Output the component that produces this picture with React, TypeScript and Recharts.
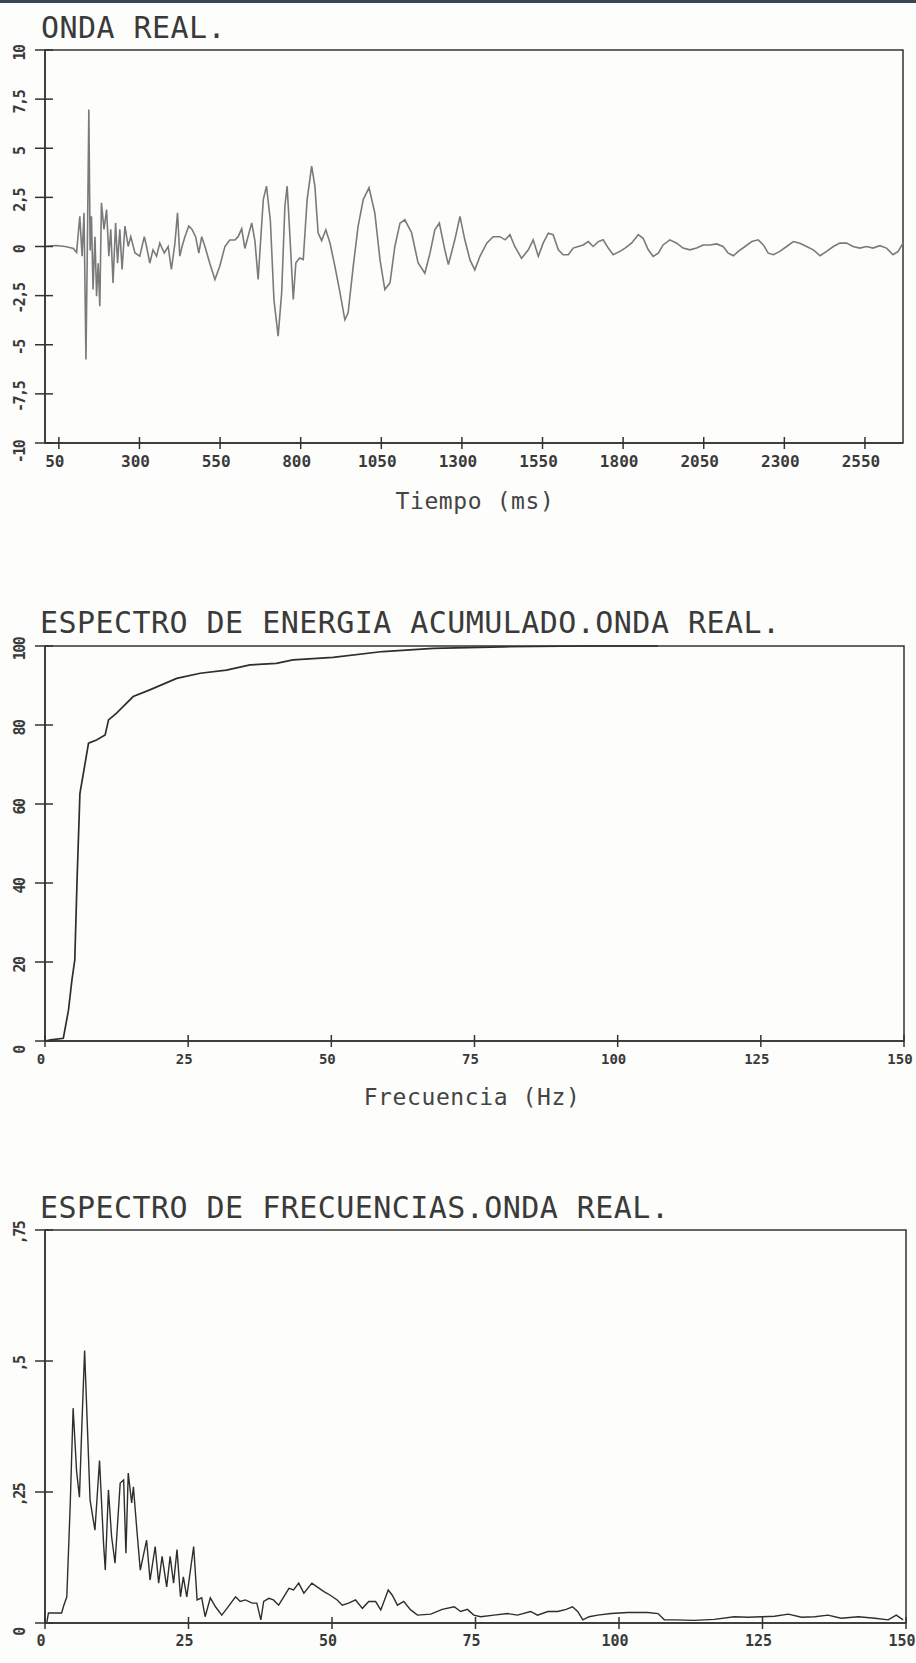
import { LineChart, Line, XAxis, YAxis, ReferenceArea } from 'recharts';

const FONT = '"DejaVu Sans Mono", monospace';
const INK = '#333';

// ONDA REAL: tiempo (ms) y amplitud
const tiempoMs = [
  7, 40, 70, 95, 105, 115, 122, 128, 134, 139, 143, 147, 151, 156, 162, 167, 172, 177, 182, 190,
  198, 205, 211, 218, 226, 232, 239, 246, 255, 265, 273, 286, 301, 315, 322, 332, 342, 353, 363, 377,
  389, 399, 410, 418, 425, 432, 441, 453, 463, 474, 484, 493, 503, 518, 534, 549, 565, 580, 596, 606,
  617, 627, 648, 658, 668, 684, 694, 706, 717, 730, 741, 751, 758, 766, 777, 785, 797, 808, 820, 834,
  844, 854, 865, 878, 891, 906, 922, 937, 947, 963, 978, 994, 1012, 1030, 1046, 1061, 1077, 1092, 1108, 1123,
  1144, 1164, 1185, 1201, 1216, 1230, 1247, 1258, 1278, 1294, 1309, 1325, 1340, 1356, 1377, 1397, 1418, 1434, 1449, 1464,
  1485, 1506, 1521, 1537, 1552, 1568, 1583, 1599, 1614, 1630, 1645, 1661, 1676, 1692, 1707, 1723, 1738, 1754, 1769, 1790,
  1806, 1826, 1847, 1862, 1878, 1893, 1909, 1924, 1945, 1966, 1986, 2007, 2028, 2048, 2069, 2090, 2110, 2126, 2142, 2157,
  2178, 2199, 2219, 2235, 2250, 2266, 2286, 2307, 2328, 2348, 2369, 2390, 2411, 2431, 2452, 2472, 2493, 2513, 2534, 2555,
  2575, 2596, 2617, 2637, 2653, 2668,
];
const amplitud = [
  0, 0.05, 0, -0.1, -0.3, 1.54, -0.49, 1.71, -5.75, 0.87, 6.97, -0.2, 1.54, -2.19, 0.5, -2.53, -0.85, -3.04, 2.22, 0.87,
  1.88, -0.49, 0.87, -1.85, 1.2, -0.85, 0.87, -1.17, 1.04, 0, 0.5, -0.33, -0.49, 0.5, 0, -0.85, -0.17, -0.49, 0.17, -0.33,
  0, -1.17, 0.17, 1.71, -0.49, 0, 0.5, 1.04, 0.87, 0.5, -0.33, 0.5, 0, -0.85, -1.68, -1.0, 0, 0.33, 0.33, 0.5,
  0.9, -0.1, 1.2, 0.3, -1.68, 2.39, 3.07, 1.3, -2.7, -4.56, -2.36, 2.05, 3.07, 0.7, -2.7, -0.83, -0.58, -0.66, 2.39, 4.09,
  3.07, 0.7, 0.3, 0.85, 0.17, -1.0, -2.36, -3.73, -3.39, -1.0, 1.02, 2.39, 2.99, 1.7, -0.68, -2.19, -1.85, 0, 1.19, 1.36,
  0.7, -0.83, -1.36, -0.34, 0.85, 1.19, -0.17, -0.92, 0.34, 1.53, 0.34, -0.68, -1.19, -0.5, 0.17, 0.5, 0.5, 0.34, 0.6, 0,
  -0.6, -0.17, 0.34, -0.5, 0.17, 0.68, 0.6, -0.17, -0.42, -0.42, -0.08, 0, 0.08, 0.25, 0, 0.25, 0.34, -0.08, -0.42, -0.25,
  -0.08, 0.17, 0.6, 0.42, -0.17, -0.5, -0.34, 0.08, 0.34, 0.17, -0.08, -0.17, -0.08, 0.08, 0.08, 0.13, 0, -0.34, -0.47, -0.25,
  0, 0.25, 0.34, 0.08, -0.34, -0.42, -0.25, 0, 0.25, 0.17, 0, -0.17, -0.47, -0.25, 0, 0.17, 0.17, 0, -0.08, 0,
  -0.08, 0.04, -0.08, -0.42, -0.25, 0.17,
];
const tiempoTicks = [50, 300, 550, 800, 1050, 1300, 1550, 1800, 2050, 2300, 2550];
const amplitudTicks = [-10, -7.5, -5, -2.5, 0, 2.5, 5, 7.5, 10];

// ESPECTRO DE ENERGIA ACUMULADO: frecuencia (Hz) y energia (%)
const freqEnergia = [
  0, 1, 3.2, 4.1, 4.7, 5.2, 5.6, 6.1, 6.6, 7.6, 9.0, 10.5, 11.1, 12.5, 15.4, 18.3, 23.0, 27.1, 31.7, 35.8,
  40.4, 43.3, 50.3, 59.0, 67.8, 80, 95, 107,
];
const energiaAcum = [
  0, 0.3, 0.7, 7.8, 15.4, 20.5, 40.8, 62.7, 66.9, 75.4, 76.2, 77.5, 81.3, 83.0, 87.2, 88.9, 91.8, 93.1, 93.9, 95.2,
  95.6, 96.5, 97.1, 98.6, 99.4, 99.8, 100, 100,
];
const energiaTicks = [0, 20, 40, 60, 80, 100];

// ESPECTRO DE FRECUENCIAS: frecuencia (Hz) y amplitud
const freqEspectro = [
  0.3, 0.6, 2.9, 3.2, 3.8, 4.4, 4.9, 5.5, 6.0, 6.4, 6.9, 7.3, 7.85, 8.7, 9.5, 10.2, 10.5, 11.05, 11.6, 12.2,
  13.1, 13.7, 14.1, 14.5, 15.1, 15.4, 16.0, 16.6, 17.7, 18.3, 19.2, 19.8, 20.4, 21.2, 21.8, 22.4, 23.0, 23.6, 24.1, 24.7,
  25.9, 26.5, 27.3, 27.9, 28.8, 29.7, 30.8, 31.7, 33.2, 34.0, 34.9, 36.1, 36.9, 37.6, 38.1, 39.0, 39.8, 40.7, 41.6, 42.5,
  43.3, 44.2, 45.1, 46.5, 47.4, 48.6, 49.7, 50.9, 51.8, 52.9, 54.1, 55.3, 56.4, 57.6, 58.5, 59.8, 60.5, 61.4, 62.5, 63.7,
  64.9, 67.2, 69.2, 71.3, 72.4, 73.6, 74.7, 75.9, 78.2, 80.6, 82.3, 84.6, 85.8, 87.6, 89.3, 90.8, 91.9, 92.8, 93.7, 94.8,
  96.3, 98.6, 101.5, 105.0, 106.8, 107.9, 109.7, 113.1, 116.6, 120.1, 122.5, 124.8, 127.1, 129.5, 131.8, 134.1, 136.4, 138.7, 141.7, 144.6,
  146.9, 148.3, 149.5,
];
const ampEspectro = [
  0, 0.019, 0.019, 0.031, 0.05, 0.228, 0.41, 0.29, 0.24, 0.37, 0.52, 0.4, 0.235, 0.177, 0.31, 0.152, 0.101, 0.254, 0.165, 0.114,
  0.267, 0.273, 0.133, 0.286, 0.229, 0.26, 0.178, 0.101, 0.158, 0.082, 0.146, 0.076, 0.127, 0.069, 0.127, 0.076, 0.14, 0.05, 0.088, 0.05,
  0.146, 0.044, 0.048, 0.012, 0.048, 0.031, 0.015, 0.028, 0.05, 0.041, 0.044, 0.038, 0.038, 0.006, 0.041, 0.047, 0.044, 0.034, 0.05, 0.066,
  0.063, 0.076, 0.057, 0.076, 0.069, 0.06, 0.053, 0.044, 0.034, 0.038, 0.044, 0.028, 0.041, 0.041, 0.025, 0.063, 0.053, 0.034, 0.041, 0.025,
  0.015, 0.017, 0.026, 0.031, 0.022, 0.026, 0.015, 0.012, 0.015, 0.018, 0.015, 0.022, 0.015, 0.022, 0.022, 0.026, 0.031, 0.022, 0.006, 0.012,
  0.015, 0.018, 0.02, 0.02, 0.018, 0.006, 0.006, 0.005, 0.007, 0.012, 0.011, 0.012, 0.013, 0.017, 0.011, 0.012, 0.015, 0.009, 0.012, 0.009,
  0.006, 0.015, 0.006,
];
const espectroTicks = [0, 0.25, 0.5, 0.75];
const freqTicks = [0, 25, 50, 75, 100, 125, 150];

const ondaData = tiempoMs.map((t, i) => ({ t, v: amplitud[i] }));
const energiaData = freqEnergia.map((f, i) => ({ f, v: energiaAcum[i] }));
const espectroData = freqEspectro.map((f, i) => ({ f, v: ampEspectro[i] }));

const comma = (v: number) => String(v).replace('.', ',');
const commaFrac = (v: number) => (v === 0 ? '0' : String(v).replace('0.', ','));

const xTick = (fmt: (v: number) => string, size = 15) => (props: any) => {
  const { x, y, payload } = props;
  return (
    <g>
      <line x1={x} x2={x} y1={y - 6} y2={y + 6} stroke={INK} strokeWidth={1.5} />
      <text
        x={x - 4}
        y={y + 18}
        textAnchor="middle"
        dominantBaseline="central"
        fontFamily={FONT}
        fontSize={size}
        fontWeight="bold"
        fill="#3a3a3a"
      >
        {fmt(payload.value)}
      </text>
    </g>
  );
};

const yTick = (fmt: (v: number) => string) => (props: any) => {
  const { x, y, payload, index } = props;
  // the plotter pushes the lowest label a little further down
  const off = index === 0 ? 9 : 3;
  return (
    <g>
      <line x1={x - 10} x2={x + 8} y1={y} y2={y} stroke={INK} strokeWidth={1.5} />
      <text
        transform={`translate(${x - 25}, ${y + off}) rotate(-90)`}
        textAnchor="middle"
        dominantBaseline="central"
        fontFamily={FONT}
        fontSize={15}
        fontWeight="bold"
        letterSpacing={-1.5}
        fill="#3a3a3a"
      >
        {fmt(payload.value)}
      </text>
    </g>
  );
};

const titleStyle = {
  position: 'absolute' as const,
  fontFamily: FONT,
  fontSize: 30,
  lineHeight: '30px',
  letterSpacing: 0.45,
  color: '#3a3a3a',
  whiteSpace: 'nowrap' as const,
};

const labelStyle = {
  position: 'absolute' as const,
  fontFamily: FONT,
  fontSize: 23,
  lineHeight: '23px',
  letterSpacing: 0.6,
  color: '#444',
  width: 300,
  textAlign: 'center' as const,
  whiteSpace: 'nowrap' as const,
};

const axisLine = { stroke: INK, strokeWidth: 1.5 };

export default function App() {
  return (
    <div
      style={{
        position: 'absolute',
        left: 0,
        top: 0,
        width: 916,
        height: 1663,
        background: '#fdfdfb',
        overflow: 'hidden',
      }}
    >
      <div style={{ position: 'absolute', left: 0, top: 0, width: 916, height: 3, background: '#3b4452' }} />

      <div style={{ ...titleStyle, left: 41, top: 13 }}>ONDA REAL.</div>
      <div style={{ position: 'absolute', left: 0, top: 0 }}>
        <LineChart width={916} height={520} data={ondaData} margin={{ top: 50, left: 15, right: 13, bottom: 47 }}>
          <XAxis
            dataKey="t"
            type="number"
            domain={[7, 2668]}
            ticks={tiempoTicks}
            interval={0}
            height={30}
            tickSize={0}
            tickMargin={0}
            tickLine={false}
            axisLine={axisLine}
            tick={xTick((v) => String(v), 16)}
          />
          <YAxis
            type="number"
            domain={[-10, 10]}
            ticks={amplitudTicks}
            interval={0}
            width={30}
            tickSize={0}
            tickMargin={0}
            tickLine={false}
            axisLine={axisLine}
            tick={yTick(comma)}
          />
          <ReferenceArea x1={7} x2={2668} y1={-10} y2={10} fill="none" stroke={INK} strokeWidth={1.5} />
          <Line type="linear" dataKey="v" stroke="#7a7a7a" strokeWidth={1.6} dot={false} isAnimationActive={false} />
        </LineChart>
      </div>
      <div style={{ ...labelStyle, left: 325, top: 490 }}>Tiempo (ms)</div>

      <div style={{ ...titleStyle, left: 40, top: 608 }}>ESPECTRO DE ENERGIA ACUMULADO.ONDA REAL.</div>
      <div style={{ position: 'absolute', left: 0, top: 580 }}>
        <LineChart width={916} height={520} data={energiaData} margin={{ top: 66, left: 15, right: 12, bottom: 29 }}>
          <XAxis
            dataKey="f"
            type="number"
            domain={[0, 150]}
            ticks={freqTicks}
            interval={0}
            height={30}
            tickSize={0}
            tickMargin={0}
            tickLine={false}
            axisLine={axisLine}
            tick={xTick((v) => String(v), 14)}
          />
          <YAxis
            type="number"
            domain={[0, 100]}
            ticks={energiaTicks}
            interval={0}
            width={30}
            tickSize={0}
            tickMargin={0}
            tickLine={false}
            axisLine={axisLine}
            tick={yTick((v) => String(v))}
          />
          <ReferenceArea x1={0} x2={150} y1={0} y2={100} fill="none" stroke={INK} strokeWidth={1.5} />
          <Line type="linear" dataKey="v" stroke="#2e2e2e" strokeWidth={1.7} dot={false} isAnimationActive={false} />
        </LineChart>
      </div>
      <div style={{ ...labelStyle, left: 322, top: 1086 }}>Frecuencia (Hz)</div>

      <div style={{ ...titleStyle, left: 40, top: 1193 }}>ESPECTRO DE FRECUENCIAS.ONDA REAL.</div>
      <div style={{ position: 'absolute', left: 0, top: 1150 }}>
        <LineChart width={916} height={513} data={espectroData} margin={{ top: 80, left: 15, right: 10, bottom: 10 }}>
          <XAxis
            dataKey="f"
            type="number"
            domain={[0, 150]}
            ticks={freqTicks}
            interval={0}
            height={30}
            tickSize={0}
            tickMargin={0}
            tickLine={false}
            axisLine={axisLine}
            tick={xTick((v) => String(v), 15)}
          />
          <YAxis
            type="number"
            domain={[0, 0.75]}
            ticks={espectroTicks}
            interval={0}
            width={30}
            tickSize={0}
            tickMargin={0}
            tickLine={false}
            axisLine={axisLine}
            tick={yTick(commaFrac)}
          />
          <ReferenceArea x1={0} x2={150} y1={0} y2={0.75} fill="none" stroke={INK} strokeWidth={1.5} />
          <Line type="linear" dataKey="v" stroke="#2e2e2e" strokeWidth={1.4} dot={false} isAnimationActive={false} />
        </LineChart>
      </div>
    </div>
  );
}
